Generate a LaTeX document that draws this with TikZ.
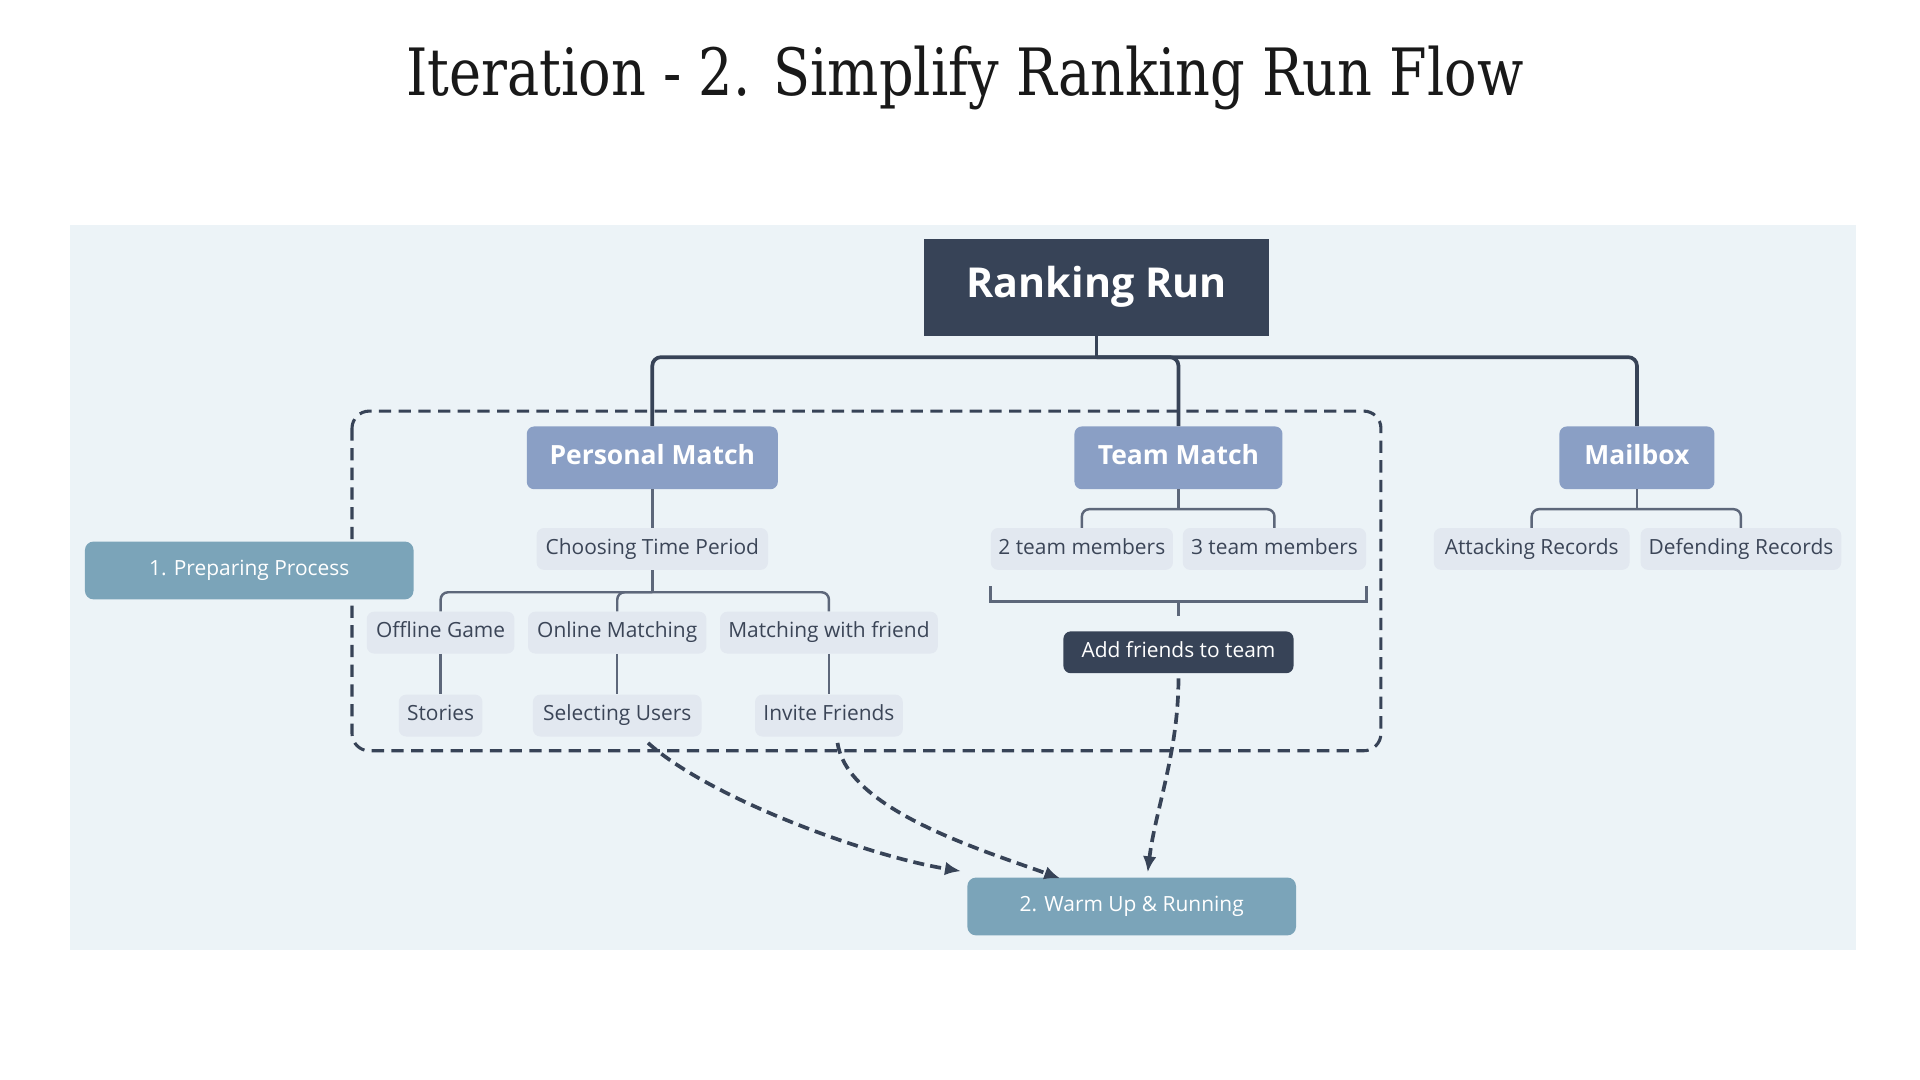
\documentclass[tikz,border=0pt]{standalone}
\usepackage{fontspec}
\setmainfont{Open Sans}
\newfontfamily\titlefont{DejaVu Serif}
\usepackage{xcolor}
\usetikzlibrary{positioning, calc, arrows.meta}

\definecolor{panelbg}{HTML}{ECF3F7}
\definecolor{navy}{HTML}{374357}
\definecolor{majorblue}{HTML}{8A9FC5}
\definecolor{leafgray}{HTML}{E2E8F0}
\definecolor{leaftext}{HTML}{3B4557}
\definecolor{stepblue}{HTML}{7BA4B9}
\definecolor{thinline}{HTML}{5D677A}

\begin{document}
\begin{tikzpicture}[x=1pt, y=-1pt, >={Latex[length=13pt, width=11pt]}]
    \tikzstyle{root} = [rectangle, fill=navy, text=white, inner sep=0pt, minimum width=280pt, minimum height=79pt, text height=24pt, text depth=7pt, font=\bfseries\fontsize{33.5}{40}\selectfont]
    \tikzstyle{major} = [rectangle, rounded corners=6pt, fill=majorblue, text=white, inner sep=0pt, minimum height=51pt, text height=15.5pt, text depth=4.5pt, font=\bfseries\fontsize{21.5}{25}\selectfont]
    \tikzstyle{leaf} = [rectangle, rounded corners=6pt, fill=leafgray, text=leaftext, inner sep=0pt, minimum height=34pt, text height=12.5pt, text depth=4pt, font=\fontsize{17}{20}\selectfont]
    \tikzstyle{darkleaf} = [leaf, fill=navy, text=white]
    \tikzstyle{stepbox} = [rectangle, rounded corners=7pt, fill=stepblue, text=white, inner sep=0pt, minimum width=267pt, minimum height=47pt, text height=12.5pt, text depth=4pt, font=\fontsize{17}{20}\selectfont]
    \tikzstyle{trunk} = [draw=navy, line width=3pt, rounded corners=7pt]
    \tikzstyle{branch} = [draw=thinline, line width=2pt, rounded corners=6pt]
    \tikzstyle{group} = [draw=navy, line width=2.5pt, dash pattern=on 10pt off 6pt, rounded corners=14pt]
    \tikzstyle{flow} = [draw=navy, line width=3pt, dash pattern=on 9pt off 5pt, ->]

    \fill[white] (0,0) rectangle (1560,877.5);
    \useasboundingbox (0,0) rectangle (1560,877.5);
    \fill[panelbg] (57,183) rectangle (1508,772);

    \node[font=\titlefont\fontsize{53}{62}\selectfont, text=black!90, xscale=0.83, transform shape] (title) at (784,63) {Iteration - 2. Simplify Ranking Run Flow};

    % dashed group round the match branches
    \draw[group] (286,334) rectangle (1122,610);

    \node[root] (root) at (891,233.5) {Ranking Run};
    \node[major, minimum width=204pt] (pm) at (530,372) {Personal Match};
    \node[major, minimum width=169pt] (tm) at (957.5,372) {Team Match};
    \node[major, minimum width=126pt] (mb) at (1330,372) {Mailbox};

    % personal match
    \node[leaf, minimum width=188pt] (ctp) at (530,446) {Choosing Time Period};
    \node[leaf, minimum width=120pt] (og) at (358,514) {Offline Game};
    \node[leaf, minimum width=145pt] (om) at (501.5,514) {Online Matching};
    \node[leaf, minimum width=177pt] (mwf) at (673.5,514) {Matching with friend};
    \node[leaf, minimum width=68pt, below=33pt of og] (st) {Stories};
    \node[leaf, minimum width=137pt, below=33pt of om] (su) {Selecting Users};
    \node[leaf, minimum width=120pt, below=33pt of mwf] (inv) {Invite Friends};

    % team match
    \node[leaf, minimum width=148pt] (t2) at (879,446) {2 team members};
    \node[leaf, minimum width=149pt] (t3) at (1035.5,446) {3 team members};
    \node[darkleaf, minimum width=187pt] (add) at (957.5,530) {Add friends to team};

    % mailbox
    \node[leaf, minimum width=159pt] (ar) at (1244.5,446) {Attacking Records};
    \node[leaf, minimum width=163pt] (dr) at (1414.5,446) {Defending Records};

    \node[stepbox] (prep) at (202.5,463.5) {1. Preparing Process};
    \node[stepbox] (warm) at (919.5,736.5) {2. Warm Up \& Running};

    % Connections
    \coordinate (hub) at ($(root.south)+(0,17)$);
    \draw[trunk] (root.south) -- (hub);
    \draw[trunk] (pm.north) |- (hub) -| (mb.north);
    \draw[trunk] (hub) -| (tm.north);

    \coordinate (ctphub) at ($(ctp.south)+(0,18)$);
    \draw[branch] (pm.south) -- (ctp.north);
    \draw[branch] (ctp.south) -- (ctphub);
    \draw[branch] (og.north) |- (ctphub) -| (mwf.north);
    \draw[branch] (ctphub) -| (om.north);
    \draw[branch] (og.south) -- (st.north);
    \draw[branch] (om.south) -- (su.north);
    \draw[branch] (mwf.south) -- (inv.north);

    \coordinate (tmhub) at ($(tm.south)+(0,16)$);
    \draw[branch] (tm.south) -- (tmhub);
    \draw[branch] (t2.north) |- (tmhub) -| (t3.north);
    \coordinate (brl) at ($(t2.south west)+(0,13)$);
    \coordinate (brr) at ($(t3.south east)+(0,13)$);
    \coordinate (brmid) at ($(add.north)+(0,-24)$);
    \coordinate (brend) at ($(add.north)+(0,-12)$);
    \draw[branch, rounded corners=0pt] (brl) |- (brmid) -| (brr);
    \draw[branch] (brmid) -- (brend);

    \coordinate (mbhub) at ($(mb.south)+(0,16)$);
    \draw[branch] (mb.south) -- (mbhub);
    \draw[branch] (ar.north) |- (mbhub) -| (dr.north);

    % flows into warm up
    \draw[flow] ([xshift=25pt, yshift=-5pt]su.south) .. controls +(50,45) and +(-75,-12) .. ([xshift=-5pt, yshift=5pt]warm.north west);
    \draw[flow] ([xshift=7pt, yshift=-5pt]inv.south) .. controls +(8,55) and +(-60,-22) .. ([xshift=-58pt, yshift=-1pt]warm.north);
    \draw[flow] ([yshift=-4pt]add.south) .. controls +(0,60) and +(6,-50) .. ([xshift=13pt, yshift=4pt]warm.north);
\end{tikzpicture}
\end{document}
